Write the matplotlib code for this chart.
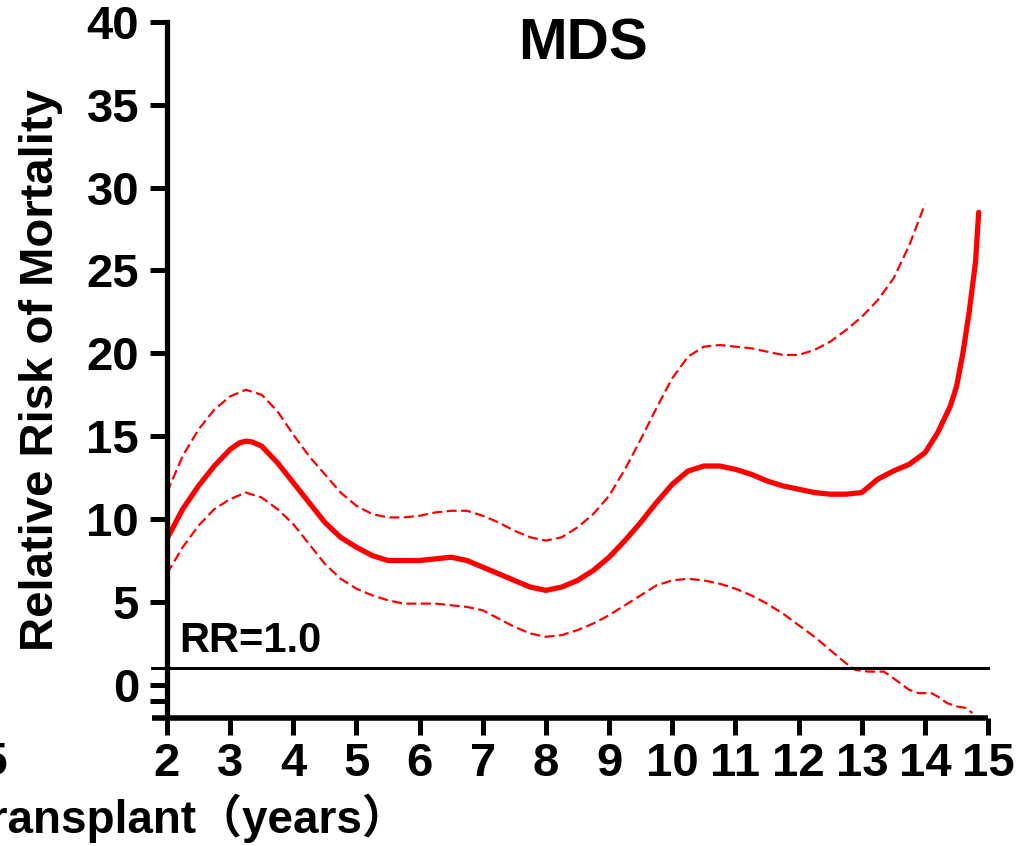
"""Relative risk of mortality over time, MDS panel."""

import matplotlib
matplotlib.use("Agg")
import matplotlib.pyplot as plt
from matplotlib.ticker import FixedLocator

plt.rcParams['font.family'] = ['Liberation Sans', 'Noto Sans CJK SC']
plt.rcParams['font.weight'] = 'bold'

# relative risk curve (solid)
rr_years = [2.0, 2.25, 2.5, 2.75, 3.0, 3.15, 3.25, 3.35, 3.5, 3.75, 4.0, 4.25, 4.5, 4.75,
            5.0, 5.25, 5.5, 5.75, 6.0, 6.25, 6.5, 6.75, 7.0, 7.25, 7.5, 7.75,
            8.0, 8.25, 8.5, 8.75, 9.0, 9.25, 9.5, 9.75, 10.0, 10.25, 10.5,
            10.75, 11.0, 11.25, 11.5, 11.75, 12.0, 12.25, 12.5, 12.75, 13.0,
            13.25, 13.5, 13.75, 14.0, 14.2, 14.4, 14.5, 14.6, 14.7, 14.8, 14.85]
rr_values = [8.8, 10.6, 12.0, 13.2, 14.2, 14.6, 14.7, 14.65, 14.4, 13.4, 12.2, 11.0, 9.8, 8.9,
             8.3, 7.8, 7.5, 7.5, 7.5, 7.6, 7.7, 7.5, 7.1, 6.7, 6.3, 5.9,
             5.7, 5.9, 6.3, 6.9, 7.7, 8.7, 9.8, 11.0, 12.1, 12.9, 13.2,
             13.2, 13.0, 12.7, 12.3, 12.0, 11.8, 11.6, 11.5, 11.5, 11.6,
             12.4, 12.9, 13.3, 14.0, 15.2, 16.8, 18.0, 20.0, 22.5, 25.5, 28.5]

# upper confidence band (dashed)
upper_years = [2.0, 2.25, 2.5, 2.75, 3.0, 3.25, 3.5, 3.75, 4.0, 4.25, 4.5, 4.75,
               5.0, 5.25, 5.5, 5.75, 6.0, 6.25, 6.5, 6.75, 7.0, 7.25, 7.5, 7.75,
               8.0, 8.25, 8.5, 8.75, 9.0, 9.25, 9.5, 9.75, 10.0, 10.25, 10.5,
               10.75, 11.0, 11.25, 11.5, 11.75, 12.0, 12.25, 12.5, 12.75, 13.0,
               13.25, 13.5, 13.75, 14.0]
upper_values = [11.6, 13.8, 15.4, 16.6, 17.4, 17.8, 17.5, 16.5, 15.1, 13.8, 12.7, 11.6,
                10.8, 10.3, 10.1, 10.1, 10.2, 10.4, 10.5, 10.5, 10.2, 9.8, 9.3, 8.9,
                8.7, 8.9, 9.5, 10.3, 11.4, 13.0, 14.8, 16.7, 18.5, 19.8, 20.4,
                20.5, 20.4, 20.3, 20.1, 19.9, 19.9, 20.2, 20.7, 21.4, 22.2,
                23.2, 24.5, 26.5, 29.0]

# lower confidence band (dashed)
lower_years = [2.0, 2.25, 2.5, 2.75, 3.0, 3.25, 3.5, 3.75, 4.0, 4.25, 4.5, 4.75,
               5.0, 5.25, 5.5, 5.75, 6.0, 6.25, 6.5, 6.75, 7.0, 7.25, 7.5, 7.75,
               8.0, 8.25, 8.5, 8.75, 9.0, 9.25, 9.5, 9.75, 10.0, 10.25, 10.5,
               10.75, 11.0, 11.25, 11.5, 11.75, 12.0, 12.25, 12.5, 12.75, 12.9,
               13.1, 13.35, 13.5, 13.75, 13.9, 14.1, 14.2, 14.35, 14.5, 14.65, 14.75]
lower_values = [6.7, 8.3, 9.6, 10.6, 11.2, 11.6, 11.3, 10.6, 9.7, 8.5, 7.3, 6.4,
                5.8, 5.4, 5.1, 4.9, 4.9, 4.9, 4.8, 4.7, 4.5, 4.0, 3.5, 3.1,
                2.9, 3.0, 3.3, 3.7, 4.2, 4.8, 5.4, 6.0, 6.3, 6.4, 6.3,
                6.1, 5.8, 5.4, 4.9, 4.3, 3.6, 2.9, 2.1, 1.3, 0.9,
                0.8, 0.8, 0.4, -0.3, -0.5, -0.5, -0.7, -1.1, -1.3, -1.4, -1.7]

x_ticks = list(range(2, 16))
y_ticks = [0, 5, 10, 15, 20, 25, 30, 35, 40]
rr_ref = 1.0

red = '#ff0000'

fig = plt.figure(figsize=(10.24, 8.46), dpi=100)
ax = fig.add_axes([0.163, 0.1513, 0.802, 0.823])

ax.plot(upper_years, upper_values, color=red, lw=1.6, dashes=(4.5, 2))
ax.plot(lower_years, lower_values, color=red, lw=1.6, dashes=(4.5, 2))
ax.plot(rr_years, rr_values, color=red, lw=3.8, solid_capstyle='round',
        solid_joinstyle='round')

ax.set_xlim(2, 15)
ax.set_ylim(-2, 40)

# reference line and bottom axis both stick out a little left of the y axis
x_left = 1.76
ax.plot([x_left, 15], [rr_ref, rr_ref], color='black', lw=2.2, clip_on=False)
ax.plot([x_left, 15], [-2, -2], color='black', lw=4, clip_on=False,
        solid_capstyle='butt')
ax.text(2.2, 2.0, 'RR=1.0', fontsize=30, fontweight='bold')

for side in ['top', 'right', 'bottom']:
    ax.spines[side].set_visible(False)
ax.spines['left'].set_linewidth(3.8)

ax.set_xticks(x_ticks)
ax.set_yticks(y_ticks)
ax.yaxis.set_minor_locator(FixedLocator([-1]))
ax.tick_params(axis='both', which='both', width=3.6, length=12,
               labelsize=34)
ax.tick_params(axis='y', pad=8)
ax.tick_params(axis='x', pad=5)
for lab in ax.get_xticklabels() + ax.get_yticklabels():
    lab.set_fontweight('bold')

# title sits inside the plot area
ax.text(8.58, 38.6, 'MDS', fontsize=42, fontweight='bold',
        ha='center', va='center')

fig.text(0.04, 1 - 370 / 846, 'Relative Risk of Mortality', rotation=90,
         ha='center', va='center', fontsize=34, fontweight='bold')

# pieces of the neighbouring panel, cut off at the left edge
fig.text(408 / 1024, 1 - 833 / 846, 'Time after Transplant（years）',
         ha='right', va='baseline', fontsize=33, fontweight='bold')
fig.text(8 / 1024, 1 - 775 / 846, '15', ha='right', va='baseline',
         fontsize=34, fontweight='bold')

fig.savefig('out.png', dpi=100)
